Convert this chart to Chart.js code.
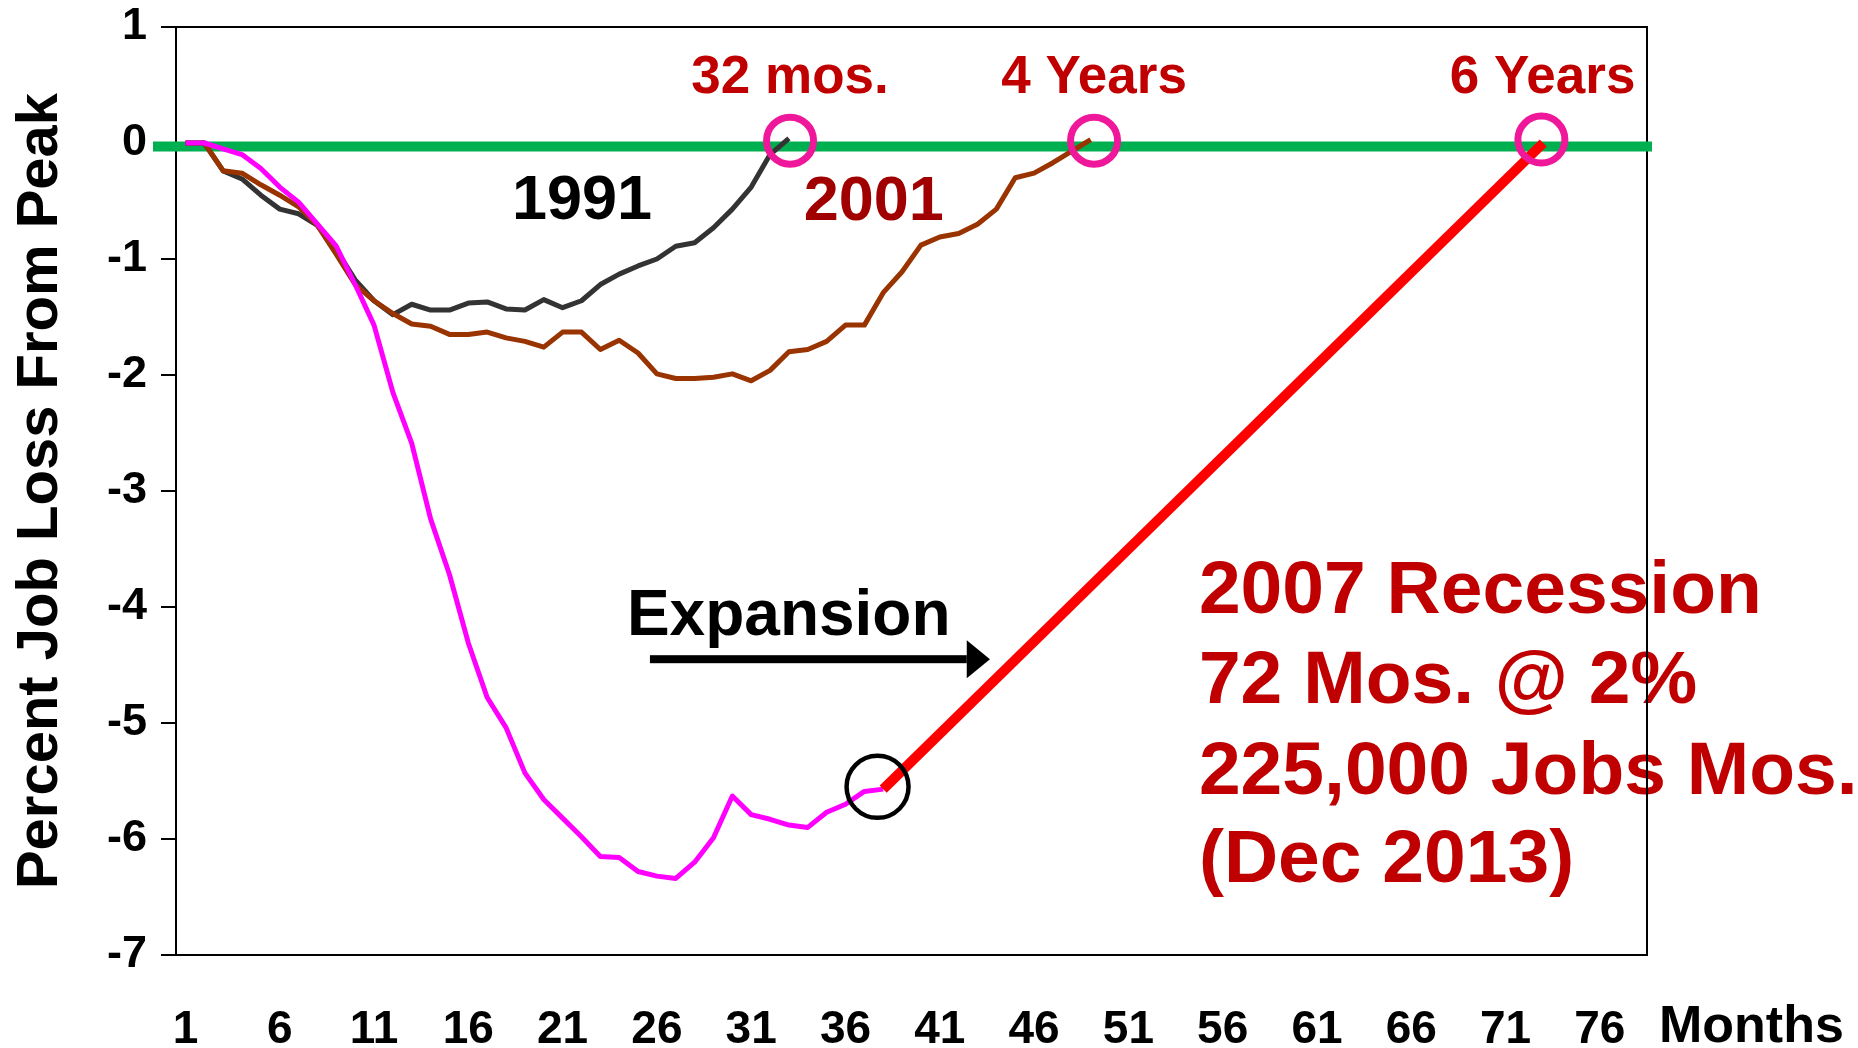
<!DOCTYPE html>
<html>
<head>
<meta charset="utf-8">
<script src="https://cdn.jsdelivr.net/npm/chart.js@4.4.1/dist/chart.umd.min.js"></script>
<style>
  html, body { margin: 0; padding: 0; background: #fff; }
  #wrap { width: 1858px; height: 1048px; }
</style>
</head>
<body>
<div id="wrap"><canvas id="jobChart" width="1858" height="1048"></canvas></div>
<script>
// months since the employment peak (category axis)
var months = ["1","2","3","4","5","6","7","8","9","10","11","12","13","14","15","16","17","18","19","20",
  "21","22","23","24","25","26","27","28","29","30","31","32","33","34","35","36","37","38","39","40",
  "41","42","43","44","45","46","47","48","49","50","51","52","53","54","55","56","57","58","59","60",
  "61","62","63","64","65","66","67","68","69","70","71","72","73","74","75","76","77","78"];
var shownMonths = ["1","6","11","16","21","26","31","36","41","46","51","56","61","66","71","76"];
var yTicks = [1, 0, -1, -2, -3, -4, -5, -6, -7];

// percent job loss from peak, month 1 onwards
var loss1991 = [0, 0, -0.24, -0.31, -0.45, -0.57, -0.61, -0.71, -0.92, -1.18, -1.36, -1.48, -1.39, -1.44,
  -1.44, -1.38, -1.37, -1.43, -1.44, -1.35, -1.42, -1.36, -1.22, -1.13, -1.06, -1.0, -0.89, -0.86,
  -0.73, -0.57, -0.38, -0.10, 0.04];
var loss2001 = [0, 0, -0.24, -0.26, -0.36, -0.45, -0.55, -0.71, -0.96, -1.22, -1.36, -1.47, -1.56, -1.58,
  -1.65, -1.65, -1.63, -1.68, -1.71, -1.76, -1.63, -1.63, -1.78, -1.70, -1.81, -1.99, -2.03, -2.03,
  -2.02, -1.99, -2.05, -1.96, -1.80, -1.78, -1.71, -1.57, -1.57, -1.29, -1.11, -0.88, -0.81, -0.78,
  -0.70, -0.57, -0.30, -0.26, -0.17, -0.07, 0.03];
var loss2007 = [0, 0, -0.05, -0.10, -0.22, -0.38, -0.51, -0.70, -0.89, -1.22, -1.57, -2.15, -2.59, -3.24,
  -3.72, -4.31, -4.78, -5.04, -5.43, -5.66, -5.82, -5.98, -6.15, -6.16, -6.28, -6.32, -6.34, -6.20,
  -5.99, -5.63, -5.79, -5.83, -5.88, -5.90, -5.77, -5.70, -5.59, -5.57];
// recovery at 225,000 jobs a month
var projMonths = ["38", "73"];
var projValues = [-5.57, 0];

var FONT = '"Liberation Sans", Arial, Helvetica, sans-serif';

// annotations, placed in chart units (month, percent)
var rings = [
  { m: 33.06, v: 0.02, r: 23.5, w: 7, color: "#F0189A" },
  { m: 49.18, v: 0.02, r: 23.5, w: 7, color: "#F0189A" },
  { m: 72.9, v: 0.03, r: 23.5, w: 7, color: "#F0189A" },
  { m: 37.7, v: -5.55, r: 31, w: 4.5, color: "#000000" }
];
var notes = [
  { text: "32 mos.", m: 33.06, v: 0.43, size: 53, color: "#C00000", align: "center" },
  { text: "4 Years", m: 49.18, v: 0.43, size: 53, color: "#C00000", align: "center" },
  { text: "6 Years", m: 72.96, v: 0.43, size: 53, color: "#C00000", align: "center" },
  { text: "1991", m: 22.03, v: -0.655, size: 63, color: "#000000", align: "center" },
  { text: "2001", m: 37.5, v: -0.664, size: 63, color: "#A00000", align: "center" },
  { text: "Expansion", m: 24.41, v: -4.24, size: 64, color: "#000000", align: "left" }
];
var bigNote = { lines: ["2007 Recession", "72 Mos. @ 2%", "225,000 Jobs Mos.", "(Dec 2013)"],
  m: 54.74, v: [-4.05, -4.83, -5.61, -6.37], size: 75, color: "#C00000" };

function px(chart, m) {
  var x = chart.scales.x;
  var a = x.getPixelForValue(0), b = x.getPixelForValue(1);
  return a + (m - 1) * (b - a);
}
function py(chart, v) { return chart.scales.y.getPixelForValue(v); }

var annotPlugin = {
  id: "annot",
  beforeDraw: function (chart) {
    var ctx = chart.ctx;
    ctx.save();
    ctx.fillStyle = bigNote.color;
    ctx.font = "bold " + bigNote.size + "px " + FONT;
    ctx.textAlign = "left";
    ctx.textBaseline = "alphabetic";
    bigNote.lines.forEach(function (t, i) {
      ctx.fillText(t, px(chart, bigNote.m), py(chart, bigNote.v[i]));
    });
    ctx.restore();
  },
  beforeDatasetsDraw: function (chart) {
    var ctx = chart.ctx, a = chart.chartArea;
    ctx.save();
    // plot frame
    ctx.strokeStyle = "#000";
    ctx.lineWidth = 2;
    ctx.strokeRect(a.left, a.top, a.right - a.left, a.bottom - a.top);
    // zero line
    var y0 = py(chart, -0.03);
    ctx.strokeStyle = "#00B050";
    ctx.lineWidth = 10;
    ctx.beginPath();
    ctx.moveTo(a.left - 23, y0);
    ctx.lineTo(a.right + 5, y0);
    ctx.stroke();
    ctx.restore();
  },
  afterDatasetsDraw: function (chart) {
    var ctx = chart.ctx, a = chart.chartArea;
    ctx.save();
    rings.forEach(function (c) {
      ctx.strokeStyle = c.color;
      ctx.lineWidth = c.w;
      ctx.beginPath();
      ctx.arc(px(chart, c.m), py(chart, c.v), c.r, 0, Math.PI * 2);
      ctx.stroke();
    });
    ctx.textBaseline = "alphabetic";
    notes.forEach(function (n) {
      ctx.fillStyle = n.color;
      ctx.font = "bold " + n.size + "px " + FONT;
      ctx.textAlign = n.align;
      ctx.fillText(n.text, px(chart, n.m), py(chart, n.v));
    });
    // expansion arrow
    var ay = py(chart, -4.45);
    var x1 = px(chart, 25.63), xh = px(chart, 42.43), xt = px(chart, 43.66);
    ctx.fillStyle = "#000";
    ctx.fillRect(x1, ay - 4, xh - x1, 8);
    ctx.beginPath();
    ctx.moveTo(xh, ay - 19);
    ctx.lineTo(xt, ay);
    ctx.lineTo(xh, ay + 19);
    ctx.closePath();
    ctx.fill();
    // x axis name
    ctx.font = "bold 52px " + FONT;
    ctx.textAlign = "left";
    ctx.fillText("Months", a.right + 12, a.bottom + 87);
    ctx.restore();
  }
};

var ctx = document.getElementById("jobChart").getContext("2d");

new Chart(ctx, {
  type: "line",
  data: {
    labels: months,
    datasets: [
      {
        label: "Projection",
        data: projMonths.map(function (m, i) { return { x: m, y: projValues[i] }; }),
        borderColor: "#FF0000",
        borderWidth: 10,
        borderCapStyle: "butt",
        spanGaps: true
      },
      {
        label: "2007",
        data: loss2007,
        borderColor: "#FF00FF",
        borderWidth: 5
      },
      {
        label: "2001",
        data: loss2001,
        borderColor: "#993300",
        borderWidth: 5
      },
      {
        label: "1991",
        data: loss1991,
        borderColor: "#333333",
        borderWidth: 5
      }
    ]
  },
  options: {
    responsive: false,
    animation: false,
    devicePixelRatio: 1,
    layout: { padding: { left: 0, top: 27, right: 211, bottom: 0 } },
    elements: {
      point: { radius: 0 },
      line: { tension: 0, borderJoinStyle: "round", fill: false }
    },
    plugins: {
      legend: { display: false },
      tooltip: { enabled: false }
    },
    scales: {
      x: {
        type: "category",
        offset: true,
        grid: { display: false, drawTicks: false },
        border: { display: false },
        ticks: {
          autoSkip: false,
          maxRotation: 0,
          padding: 48,
          color: "#000",
          font: { family: FONT, size: 46, weight: "bold" },
          callback: function (val) {
            var lab = months[val];
            return shownMonths.indexOf(lab) >= 0 ? lab : "";
          }
        },
        afterFit: function (scale) { scale.height = 93; }
      },
      y: {
        min: -7,
        max: 1,
        afterBuildTicks: function (scale) {
          scale.ticks = yTicks.map(function (v) { return { value: v }; });
        },
        grid: {
          drawOnChartArea: false,
          drawTicks: true,
          tickLength: 15,
          color: "#000",
          lineWidth: 2
        },
        border: { display: false },
        ticks: {
          padding: 14,
          color: "#000",
          font: { family: FONT, size: 45, weight: "bold", lineHeight: 0.5 }
        },
        title: {
          display: true,
          text: "Percent Job Loss From Peak",
          color: "#000",
          font: { family: FONT, size: 58, weight: "bold" },
          padding: { top: 6, bottom: 0 }
        },
        afterFit: function (scale) { scale.width = 176; }
      }
    }
  },
  plugins: [annotPlugin]
});
</script>
</body>
</html>
